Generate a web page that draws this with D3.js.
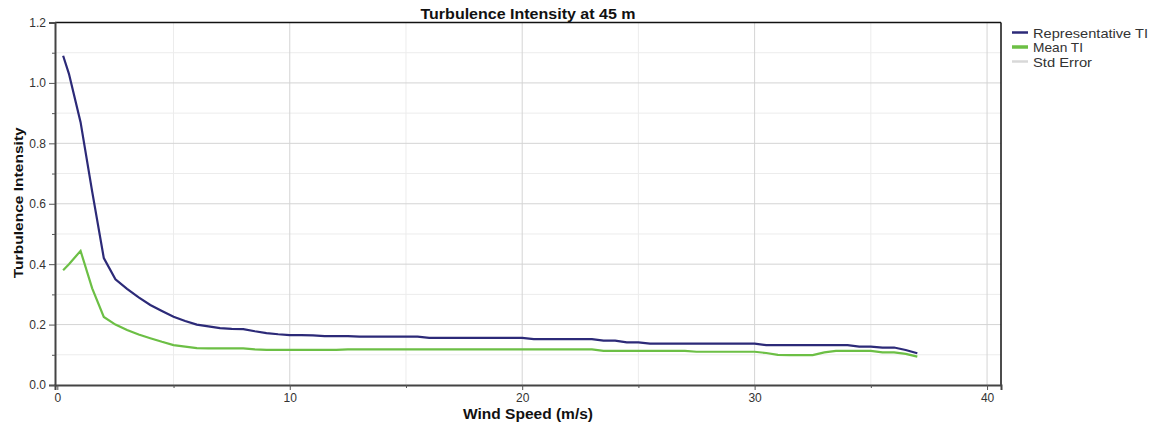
<!DOCTYPE html>
<html>
<head>
<meta charset="utf-8">
<script src="https://cdn.jsdelivr.net/npm/d3@7"></script>
<style>
	body{margin:0;background:#fff;}
	text{font-family:"Liberation Sans",Arial,sans-serif;}
</style>
</head>
<body>
<div id="container"></div>
<script>
// data
let windSpeed = [0.25,0.5,1,1.5,2,2.5,3,3.5,4,4.5,5,5.5,6,6.5,7,7.5,8,8.5,9,9.5,
	10,10.5,11,11.5,12,12.5,13,13.5,14,14.5,15,15.5,16,16.5,17,17.5,18,18.5,19,19.5,
	20,20.5,21,21.5,22,22.5,23,23.5,24,24.5,25,25.5,26,26.5,27,27.5,28,28.5,29,29.5,
	30,30.5,31,31.5,32,32.5,33,33.5,34,34.5,35,35.5,36,36.5,37];
let representativeTI = [1.09,1.03,0.87,0.64,0.42,0.35,0.318,0.29,0.265,0.245,
	0.226,0.212,0.2,0.194,0.188,0.186,0.185,0.178,0.172,0.168,
	0.165,0.165,0.164,0.162,0.162,0.162,0.16,0.16,0.16,0.16,0.16,0.16,0.156,0.156,0.156,0.156,0.156,0.156,0.156,0.156,
	0.156,0.152,0.152,0.152,0.152,0.152,0.152,0.147,0.147,0.141,0.141,0.137,0.137,0.137,0.137,0.137,0.137,0.137,0.137,0.137,
	0.137,0.132,0.132,0.132,0.132,0.132,0.132,0.132,0.132,0.127,0.127,0.124,0.124,0.116,0.105];
let meanTI = [0.38,0.40,0.444,0.32,0.225,0.2,0.182,0.167,0.155,0.143,
	0.132,0.127,0.122,0.121,0.121,0.121,0.121,0.118,0.116,0.116,
	0.116,0.116,0.116,0.116,0.116,0.118,0.118,0.118,0.118,0.118,0.118,0.118,0.118,0.118,0.118,0.118,0.118,0.118,0.118,0.118,
	0.118,0.118,0.118,0.118,0.118,0.118,0.118,0.113,0.113,0.113,0.113,0.113,0.113,0.113,0.113,0.11,0.11,0.11,0.11,0.11,
	0.11,0.106,0.1,0.099,0.099,0.099,0.108,0.113,0.113,0.113,0.113,0.108,0.108,0.103,0.094];
let xTicks = [0,10,20,30,40];
let xMinorTicks = [5,15,25,35];
let yTicks = [0,0.2,0.4,0.6,0.8,1.0,1.2];
let yMinorTicks = [0.1,0.3,0.5,0.7,0.9,1.1];
let legendNames = ["Representative TI","Mean TI","Std Error"];
let legendColors = ["#2c2a78","#6cbf45","#d8d8d8"];

let margin = {top: 22.5, right: 164, bottom: 43, left: 55},
	width = 1165 - margin.left - margin.right,
	height = 428 - margin.top - margin.bottom;

let xScale = d3.scaleLinear().domain([-0.1, 40.6]).range([0, width]);
let yScale = d3.scaleLinear().domain([0, 1.2]).range([height, 0]);

let svg = d3.select("div#container").append("svg")
	.attr("width", 1165).attr("height", 428)
	.append("g")
	.attr("transform", "translate(" + margin.left + "," + margin.top + ")");

// grid
function drawGrid(ticks, color){
	svg.append("g").selectAll("line.v").data(ticks.x).enter().append("line")
		.attr("x1", d => xScale(d)).attr("x2", d => xScale(d))
		.attr("y1", 0).attr("y2", height)
		.attr("stroke", color).attr("stroke-width", 1);
	svg.append("g").selectAll("line.h").data(ticks.y).enter().append("line")
		.attr("x1", 0).attr("x2", width)
		.attr("y1", d => yScale(d)).attr("y2", d => yScale(d))
		.attr("stroke", color).attr("stroke-width", 1);
}
drawGrid({x: xMinorTicks, y: yMinorTicks}, "#ececec");
drawGrid({x: xTicks.slice(1), y: yTicks.slice(1)}, "#d4d4d4");

// border top/right
svg.append("line").attr("x1",0).attr("x2",width).attr("y1",0).attr("y2",0)
	.attr("stroke","#111").attr("stroke-width",1.5);
svg.append("line").attr("x1",width).attr("x2",width).attr("y1",0).attr("y2",height)
	.attr("stroke","#111").attr("stroke-width",1.5);

// axes
let xAxis = svg.append("g").attr("transform","translate(0," + height + ")")
	.call(d3.axisBottom(xScale).tickValues(xTicks).tickFormat(d3.format("d")).tickSize(5).tickPadding(3));
let xMinor = svg.append("g").attr("transform","translate(0," + height + ")")
	.call(d3.axisBottom(xScale).tickValues(xMinorTicks).tickFormat("").tickSize(3));
let yAxis = svg.append("g")
	.call(d3.axisLeft(yScale).tickValues(yTicks).tickFormat(d3.format(".1f")).tickSize(6).tickPadding(3));
let yMinor = svg.append("g")
	.call(d3.axisLeft(yScale).tickValues(yMinorTicks).tickFormat("").tickSize(3));
[xAxis, xMinor, yAxis, yMinor].forEach(function(a){
	a.select(".domain").attr("stroke","#444").attr("stroke-width",2);
	a.selectAll(".tick line").attr("stroke","#555");
	a.selectAll(".tick text").attr("fill","#333").style("font-size","12px");
});
xMinor.select(".domain").remove();
yMinor.select(".domain").remove();

// lines
let line = d3.line().x((d, i) => xScale(windSpeed[i])).y(d => yScale(d));
svg.append("path").datum(meanTI)
	.attr("fill","none").attr("stroke",legendColors[1]).attr("stroke-width",2.2)
	.attr("d", line);
svg.append("path").datum(representativeTI)
	.attr("fill","none").attr("stroke",legendColors[0]).attr("stroke-width",2.2)
	.attr("d", line);

// titles
svg.append("text").attr("x", width/2).attr("y", -4)
	.attr("text-anchor","middle").style("font-size","15px").style("font-weight","bold")
	.attr("textLength",215).attr("lengthAdjust","spacingAndGlyphs")
	.attr("fill","#111").text("Turbulence Intensity at 45 m");
svg.append("text").attr("x", width/2).attr("y", height + 34)
	.attr("text-anchor","middle").style("font-size","14px").style("font-weight","bold")
	.attr("textLength",130).attr("lengthAdjust","spacingAndGlyphs")
	.attr("fill","#111").text("Wind Speed (m/s)");
svg.append("text").attr("transform","translate(" + (-32) + "," + (yScale(0.6) - 1) + ") rotate(-90)")
	.attr("text-anchor","middle").style("font-size","13.5px").style("font-weight","bold")
	.attr("textLength",151).attr("lengthAdjust","spacingAndGlyphs")
	.attr("fill","#111").text("Turbulence Intensity");

// legend
let legendWidths = [115, 50, 59];
let legend = svg.append("g").attr("transform","translate(" + (width + 11) + ",10)");
legendNames.forEach(function(name, i){
	legend.append("line").attr("x1",0).attr("x2",16).attr("y1",i*14.5).attr("y2",i*14.5)
		.attr("stroke",legendColors[i]).attr("stroke-width", i === 1 ? 3.5 : 2.5);
	legend.append("text").attr("x",21).attr("y",i*14.5 + 5)
		.style("font-size","13px").attr("fill","#333")
		.attr("textLength",legendWidths[i]).attr("lengthAdjust","spacingAndGlyphs")
		.text(name);
});
</script>
</body>
</html>
